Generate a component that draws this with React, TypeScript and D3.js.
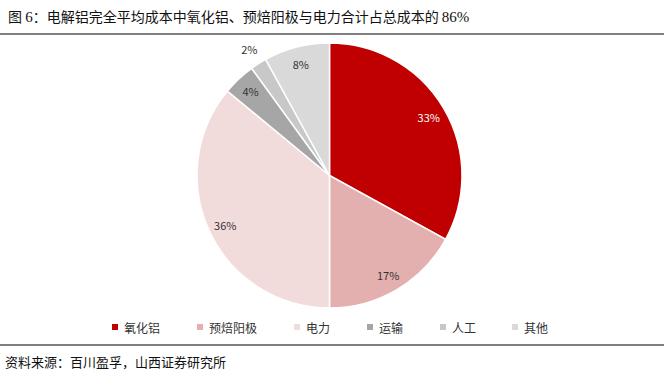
import React from "react";
import * as d3 from "d3";

const categories = ["氧化铝", "预焙阳极", "电力", "运输", "人工", "其他"];
const values = [33, 17, 36, 4, 2, 8];
const colors = ["#C00000", "#E3AFAF", "#F2DCDB", "#A6A6A6", "#C8C8C8", "#D9D9D9"];
const labelColors = ["#FFFFFF", "#333333", "#333333", "#333333", "#333333", "#333333"];
const labelRadiusFactor = [0.87, 0.87, 0.87, 0.87, 1.13, 0.87];
const legendX = [115, 200, 297, 370, 443, 515];

const titleParts = ["图 ", "6", "：电解铝完全平均成本中氧化铝、预焙阳极与电力合计占总成本的 ", "86%"];
const source = "资料来源：百川盈孚，山西证券研究所";

export default function App() {
  const W = 664, H = 378;
  const cx = 329.5, cy = 175.5, R = 132.5;
  const pie = d3.pie<number>().sort(null).value((d) => d)(values);
  const arc = d3.arc<d3.PieArcDatum<number>>().innerRadius(0).outerRadius(R);
  const font = "'Noto Sans CJK SC', 'Noto Sans', sans-serif";
  const serif = "'Liberation Serif', 'DejaVu Serif', serif";
  return (
    <svg width={W} height={H} style={{ position: "absolute", left: 0, top: 0, background: "#fff" }}>
      <text x={8} y={22} fontFamily={font} fontSize={14} fill="#111">
        {titleParts.map((t, i) => (
          <tspan key={i} fontFamily={i % 2 === 1 ? serif : font} fontSize={i % 2 === 1 ? 15 : 14}>{t}</tspan>
        ))}
      </text>
      <rect x={0} y={33} width={W} height={2} fill="#7F7F7F" />
      <g transform={`translate(${cx},${cy})`}>
        {pie.map((p, i) => (
          <path key={i} d={arc(p) || ""} fill={colors[i]} stroke="#fff" strokeWidth={1.5} />
        ))}
        {pie.map((p, i) => {
          const a = (p.startAngle + p.endAngle) / 2;
          const r = R * labelRadiusFactor[i];
          return (
            <text key={i} x={r * Math.sin(a)} y={-r * Math.cos(a)} textAnchor="middle" dominantBaseline="central"
              fontFamily={font} fontSize={11} fill={labelColors[i]}>{values[i]}%</text>
          );
        })}
      </g>
      {categories.map((c, i) => (
        <g key={i}>
          <rect x={legendX[i] - 3} y={324} width={6} height={6} fill={colors[i]} />
          <text x={legendX[i] + 9} y={327} dominantBaseline="central" fontFamily={font} fontSize={12} fill="#333">{c}</text>
        </g>
      ))}
      <rect x={0} y={344} width={W} height={2} fill="#7F7F7F" />
      <text x={5} y={367} fontFamily={font} fontSize={13} fill="#111">{source}</text>
    </svg>
  );
}
